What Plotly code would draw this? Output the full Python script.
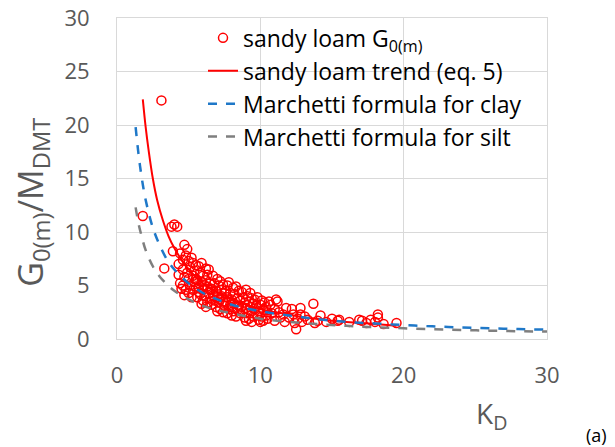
import plotly.graph_objects as go

# measured points, sandy loam G0(m)/MDMT vs KD
kd_pts = [1.8, 3.1, 3.3, 3.8, 4.0, 4.2, 3.9, 4.4, 4.3, 4.4, 4.3,
          4.7, 4.9, 4.6, 4.8, 5.0, 5.2, 5.3, 4.6, 4.9, 5.1, 5.4, 4.7, 5.0, 5.3, 4.6, 4.8, 5.1, 5.4, 4.5, 5.0, 5.3, 4.7, 5.2, 5.5, 5.5, 5.5,
          5.7, 5.9, 6.2, 6.4, 5.8, 6.0, 6.3, 5.6, 5.9, 6.2, 6.5, 5.7, 6.0, 6.3, 5.8, 6.1, 6.4, 5.6, 6.0, 6.3, 6.5, 5.9, 6.2, 6.5, 6.1, 5.7,
          6.7, 7.0, 7.2, 6.8, 7.1, 7.4, 6.6, 6.9, 7.3, 6.7, 7.0, 7.3, 6.8, 7.1, 7.4, 6.6, 6.9, 7.2, 7.5, 7.0, 7.4, 6.8, 7.5, 7.2,
          7.7, 7.8, 8.1, 8.3, 7.6, 7.9, 8.2, 8.5, 7.7, 8.0, 8.4, 7.6, 7.9, 8.2, 8.5, 7.8, 8.1, 8.4, 7.7, 8.0, 8.3, 8.6, 8.0, 8.6,
          8.7, 9.0, 9.3, 8.8, 9.1, 9.4, 8.9, 9.2, 9.5, 8.7, 9.0, 9.3, 8.8, 9.1, 9.4, 8.9, 9.2, 9.5, 9.0, 9.4, 9.6, 9.6,
          9.8, 10.1, 10.3, 9.7, 10.0, 10.4, 9.9, 10.2, 10.5, 9.8, 10.1, 10.4, 9.9, 10.2, 10.5, 10.0, 10.6, 10.7, 10.8,
          11.2, 11.1, 11.0, 11.3, 11.6, 11.0, 11.7, 11.4, 11.8, 12.2, 12.3, 12.0, 12.4, 12.5, 12.8, 12.8, 12.6, 12.9, 13.3, 13.8, 13.7, 13.1,
          14.2, 14.0, 14.6, 15.0, 15.4, 15.5, 16.2, 16.9, 17.1, 17.4, 17.7, 18.2, 18.2, 18.0, 18.6, 19.5]
g0_pts = [11.5, 22.3, 6.6, 10.5, 10.7, 10.5, 8.2, 8.0, 6.0, 5.2, 7.0,
          8.8, 8.4, 7.4, 7.8, 7.3, 7.6, 7.1, 6.5, 6.2, 6.7, 6.4, 5.8, 5.6, 5.9, 5.0, 4.6, 5.0, 5.3, 4.7, 4.3, 4.6, 4.1, 3.9, 4.9, 6.9, 5.6,
          6.8, 7.1, 6.6, 6.5, 6.2, 5.9, 6.0, 5.5, 5.3, 5.5, 5.2, 4.8, 4.6, 4.9, 4.2, 4.0, 4.3, 3.9, 3.6, 3.4, 3.8, 3.3, 3.0, 4.6, 5.0, 4.4,
          5.9, 5.6, 5.4, 5.2, 5.0, 5.1, 4.7, 4.5, 4.6, 4.1, 3.9, 4.0, 3.6, 3.4, 3.5, 3.2, 3.0, 2.8, 3.1, 2.6, 2.5, 4.0, 4.3, 3.7,
          5.0, 5.3, 4.8, 4.9, 4.5, 4.3, 4.2, 4.5, 3.9, 3.7, 3.8, 3.4, 3.2, 3.3, 3.1, 2.8, 2.6, 2.7, 2.4, 2.2, 2.1, 2.4, 3.0, 3.6,
          4.4, 4.6, 4.3, 3.9, 4.0, 3.8, 3.4, 3.5, 3.3, 3.0, 2.9, 3.0, 2.5, 2.4, 2.6, 2.0, 1.9, 2.1, 1.7, 1.6, 3.7, 2.8,
          3.9, 3.6, 3.4, 3.1, 3.2, 3.0, 2.6, 2.7, 2.5, 2.2, 2.1, 2.2, 1.8, 1.7, 1.9, 1.6, 3.5, 3.2, 2.4,
          3.5, 3.7, 2.8, 2.5, 2.3, 1.7, 1.6, 2.0, 2.9, 2.8, 2.3, 2.0, 1.5, 0.9, 2.9, 2.3, 1.9, 1.6, 1.8, 1.5, 3.3, 2.1,
          2.2, 1.7, 1.6, 1.9, 1.7, 1.8, 1.6, 1.8, 1.7, 1.5, 1.8, 2.3, 2.0, 1.6, 1.4, 1.5]

# sandy loam trend (eq. 5)
kd_trend = [1.8, 2.0, 2.2, 2.5, 2.8, 3.2, 3.6, 4.0, 4.5, 5.0, 5.5, 6.0, 7.0, 8.0, 9.0, 10.0, 11.0, 12.0, 13.0, 14.0, 15.0, 16.0, 17.0, 18.0, 19.5]
g0_trend = [22.4, 19.8, 17.7, 15.0, 13.0, 11.1, 9.6, 8.5, 7.4, 6.5, 5.8, 5.2, 4.4, 3.7, 3.2, 2.8, 2.5, 2.3, 2.0, 1.9, 1.7, 1.6, 1.5, 1.4, 1.25]

# Marchetti formula curves
kd_m = [1.3, 1.5, 1.7, 2.0, 2.5, 3.0, 3.5, 4.0, 5.0, 6.0, 7.0, 8.0, 10.0, 12.0, 14.0, 16.0, 18.0, 20.0, 22.0, 24.0, 26.0, 28.0, 30.0]
g0_clay = [19.8, 17.3, 15.3, 13.0, 10.4, 8.7, 7.4, 6.5, 5.2, 4.3, 3.7, 3.2, 2.6, 2.2, 1.85, 1.6, 1.45, 1.3, 1.18, 1.08, 1.0, 0.93, 0.87]
g0_silt = [12.3, 10.8, 9.7, 8.3, 6.8, 5.8, 5.1, 4.5, 3.7, 3.1, 2.7, 2.4, 1.9, 1.6, 1.4, 1.23, 1.1, 1.0, 0.92, 0.84, 0.78, 0.73, 0.69]

FONT = "Open Sans"
GREY = "#595959"

fig = go.Figure()
fig.add_trace(go.Scatter(x=kd_pts, y=g0_pts, mode="markers", name="sandy loam G<sub>0(m)</sub>",
                         marker=dict(symbol="circle-open", size=9, color="#ff0000", line=dict(width=1.5))))
fig.add_trace(go.Scatter(x=kd_trend, y=g0_trend, mode="lines", name="sandy loam trend (eq. 5)",
                         line=dict(color="#ff0000", width=2, shape="spline")))
fig.add_trace(go.Scatter(x=kd_m, y=g0_clay, mode="lines", name="Marchetti formula for clay",
                         line=dict(color="#1f78c8", width=2.5, dash="dash", shape="spline")))
fig.add_trace(go.Scatter(x=kd_m, y=g0_silt, mode="lines", name="Marchetti formula for silt",
                         line=dict(color="#7f7f7f", width=2.5, dash="dash", shape="spline")))

fig.update_layout(
    width=615, height=447,
    margin=dict(l=117, r=68, t=18, b=108),
    plot_bgcolor="white", paper_bgcolor="white",
    font=dict(family=FONT, color=GREY),
    showlegend=True,
    legend=dict(x=0.2, y=1.005, xanchor="left", yanchor="top", bgcolor="rgba(0,0,0,0)",
                font=dict(size=23, color="#000000"), tracegroupgap=0),
)
fig.update_xaxes(range=[0, 30], dtick=10, showgrid=True, gridcolor="#d9d9d9", zeroline=False,
                 showline=True, linecolor="#d9d9d9", mirror=True, automargin=False,
                 ticklabeloverflow="allow",
                 tickfont=dict(size=22, color=GREY), ticklabelstandoff=17)
fig.update_yaxes(range=[0, 30], dtick=5, showgrid=True, gridcolor="#d9d9d9", zeroline=False,
                 showline=True, linecolor="#d9d9d9", mirror=True, automargin=False,
                 ticklabeloverflow="allow",
                 tickfont=dict(size=22, color=GREY), ticklabelstandoff=22)

fig.add_annotation(x=0.872, y=-0.237, xref="paper", yref="paper", text="K<sub>D</sub>", showarrow=False,
                   font=dict(size=28, color=GREY), xanchor="center", yanchor="middle")
fig.add_annotation(x=-0.198, y=0.427, xref="paper", yref="paper", text="G<sub>0(m)</sub>/M<sub>DMT</sub>",
                   showarrow=False, textangle=-90, font=dict(size=34, color=GREY),
                   xanchor="center", yanchor="middle")
fig.add_annotation(x=1.116, y=-0.299, xref="paper", yref="paper", text="(a)", showarrow=False,
                   font=dict(size=18, color="#000000"), xanchor="center", yanchor="middle")

# drop the default body margin so the 615x447 figure fills the window exactly
fig.write_html("out.html", config={"displayModeBar": False},
               post_script="document.body.style.margin='0';")
